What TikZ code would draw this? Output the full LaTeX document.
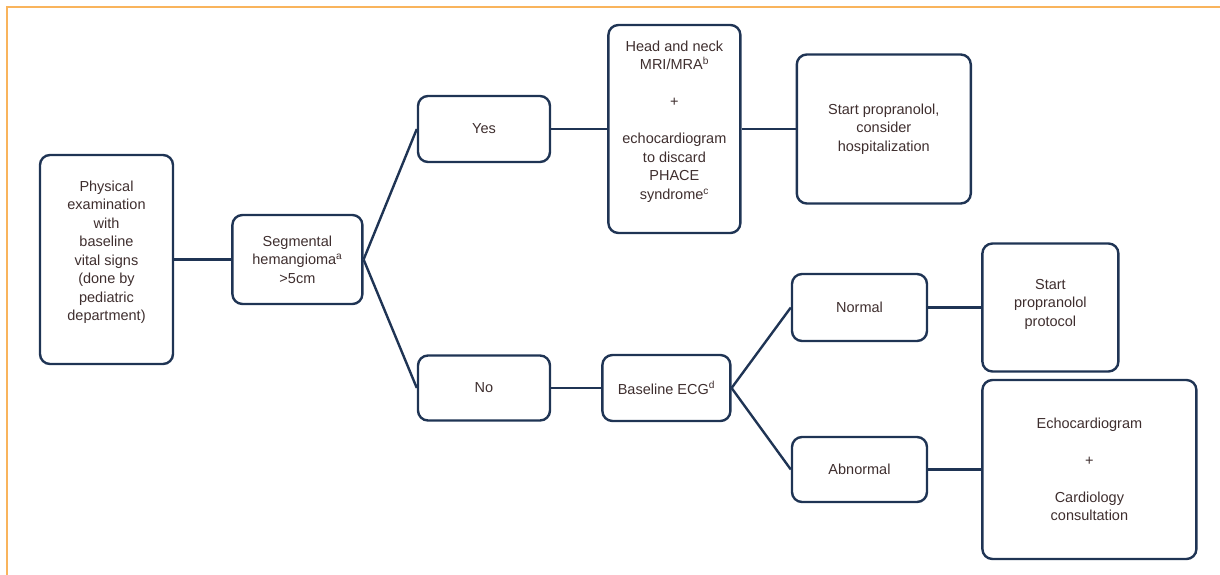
\documentclass[tikz,border=0pt]{standalone}
\usepackage{fontspec}
\setmainfont{Liberation Sans}
\usetikzlibrary{positioning}
\definecolor{navy}{RGB}{31,52,84}
\definecolor{txt}{RGB}{62,46,46}
\definecolor{frame}{RGB}{249,180,92}

\begin{document}
\begin{tikzpicture}[x=1pt,y=-1pt,line width=2.4pt,
    box/.style={draw=navy,rounded corners=10pt,align=center,text=txt,
      font=\fontsize{14.5}{18.5}\selectfont,inner sep=2pt},
    link/.style={draw=navy,line width=2.4pt}]
	  \useasboundingbox (0,0) rectangle (1220,575);
	  \draw[frame,line width=2pt] (7,575) -- (7,7) -- (1220,7);

	  \node[box,minimum width=133pt,minimum height=209pt,text depth=18pt] (phys) at (106.5,259.5)
	    {Physical\\examination\\with\\baseline\\vital signs\\(done by\\pediatric\\department)};
	  \node[box,minimum width=130pt,minimum height=89pt] (seg) [right=57pt of phys]
	    {Segmental\\hemangioma\textsuperscript{a}\\>5cm};

	  % upper branch
	  \node[box,minimum width=132pt,minimum height=66pt] (yes) at (484,129) {Yes};
	  \node[box,minimum width=132pt,minimum height=208pt,text depth=18pt] (head) [right=56pt of yes]
	    {Head and neck\\MRI/MRA\textsuperscript{b}\\[18.5pt]+\\[18.5pt]echocardiogram\\to discard\\PHACE\\syndrome\textsuperscript{c}};
	  \node[box,minimum width=174pt,minimum height=149pt] (hosp) [right=54pt of head]
	    {Start propranolol,\\consider\\hospitalization};

	  % lower branch
	  \node[box,minimum width=132pt,minimum height=65pt] (no) at (484,388) {No};
	  \node[box,minimum width=128pt,minimum height=66pt] (ecg) [right=50pt of no]
	    {Baseline ECG\textsuperscript{d}};
	  \node[box,minimum width=135pt,minimum height=67pt] (normal) at (859.5,307.5) {Normal};
	  \node[box,minimum width=136pt,minimum height=128pt,text depth=10pt] (prot) [right=53pt of normal]
	    {Start\\propranolol\\protocol};
	  \node[box,minimum width=135pt,minimum height=65pt] (abn) at (859.5,469.5) {Abnormal};
	  \node[box,minimum width=214pt,minimum height=179pt] (echo) [right=53pt of abn]
	    {Echocardiogram\\[18.5pt]+\\[18.5pt]Cardiology\\consultation};

	  \path[link]
	  (phys) edge (seg)
	  (seg.east) edge (yes.west)
	  (seg.east) edge (no.west)
	  (yes) edge (head)
	  (head) edge (hosp)
	  (no) edge (ecg)
	  (ecg.east) edge (normal.west)
	  (ecg.east) edge (abn.west)
	  (normal) edge (prot)
	  (abn) edge (echo);
	\end{tikzpicture}
\end{document}
